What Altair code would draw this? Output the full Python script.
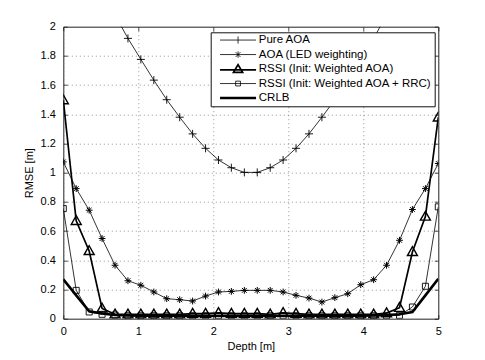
import altair as alt
import pandas as pd

depth = [0.000, 0.172, 0.345, 0.517, 0.690, 0.862, 1.034, 1.207, 1.379, 1.552,
         1.724, 1.897, 2.069, 2.241, 2.414, 2.586, 2.759, 2.931, 3.103, 3.276,
         3.448, 3.621, 3.793, 3.966, 4.138, 4.310, 4.483, 4.655, 4.828, 5.000]

series_names = ["Pure AOA", "AOA (LED weighting)", "RSSI (Init: Weighted AOA)",
                "RSSI (Init: Weighted AOA + RRC)", "CRLB"]

pure_aoa = [2.86, 2.65, 2.45, 2.26, 2.08, 1.92, 1.776, 1.634, 1.50, 1.38,
            1.266, 1.167, 1.087, 1.034, 1.002, 1.002, 1.034, 1.087, 1.167, 1.266,
            1.38, 1.50, 1.634, 1.776, 1.92, 2.08, 2.26, 2.45, 2.65, 2.86]
aoa_led = [1.074, 0.891, 0.743, 0.549, 0.366, 0.26, 0.229, 0.183, 0.137, 0.130,
           0.121, 0.155, 0.183, 0.187, 0.194, 0.194, 0.194, 0.183, 0.160, 0.141,
           0.114, 0.144, 0.171, 0.233, 0.267, 0.366, 0.537, 0.748, 0.891, 1.063]
rssi_waoa = [1.497, 0.670, 0.464, 0.07, 0.03, 0.03, 0.03, 0.03, 0.03, 0.03,
             0.035, 0.035, 0.04, 0.035, 0.035, 0.035, 0.03, 0.04, 0.035, 0.03,
             0.03, 0.03, 0.03, 0.03, 0.03, 0.038, 0.075, 0.457, 0.70, 1.379]
rssi_rrc = [0.754, 0.194, 0.046, 0.03, 0.025, 0.02, 0.02, 0.02, 0.02, 0.02,
            0.02, 0.02, 0.02, 0.02, 0.02, 0.02, 0.02, 0.02, 0.02, 0.02,
            0.02, 0.02, 0.02, 0.02, 0.02, 0.02, 0.023, 0.080, 0.222, 0.766]
crlb = [0.27, 0.16, 0.05, 0.035, 0.025, 0.022, 0.02, 0.02, 0.02, 0.02,
        0.02, 0.02, 0.02, 0.02, 0.02, 0.02, 0.02, 0.02, 0.02, 0.02,
        0.02, 0.02, 0.02, 0.02, 0.022, 0.025, 0.03, 0.046, 0.16, 0.274]

x_ticks = [0, 1, 2, 3, 4, 5]
y_ticks = [0, 0.2, 0.4, 0.6, 0.8, 1.0, 1.2, 1.4, 1.6, 1.8, 2.0]

rows = []
for name, vals in zip(series_names, [pure_aoa, aoa_led, rssi_waoa, rssi_rrc, crlb]):
    for d, v in zip(depth, vals):
        rows.append({"depth": d, "rmse": v, "series": name})
df = pd.DataFrame(rows)

FONT = "Liberation Sans"
line_widths = [0.8, 0.8, 1.7, 0.8, 2.6]
point_widths = [0.9, 1.0, 1.4, 0.9]
marker_paths = [
    "M-1,0H1M0,-1V1",
    "M-0.85,0H0.85M0,-0.85V0.85M-0.6,-0.6L0.6,0.6M-0.6,0.6L0.6,-0.6",
    "M0,-1.3L1.25,0.9L-1.25,0.9Z",
    "M-0.75,-0.75H0.75V0.75H-0.75Z",
]
legend_paths = [
    "M-4.5,0H4.5M0,-0.9V0.9",
    "M-4.5,0H4.5M0,-0.8V0.8M-0.6,-0.6L0.6,0.6M-0.6,0.6L0.6,-0.6",
    "M-4.5,0.2H4.5M0,-1.1L1.15,0.85L-1.15,0.85Z",
    "M-4.5,0H4.5M-0.6,-0.6H0.6V0.6H-0.6Z",
    "M-4.5,0H4.5",
]

xscale = alt.Scale(domain=[0, 5], nice=False, zero=False)
yscale = alt.Scale(domain=[0, 2], nice=False, zero=False)

main_x_axis = alt.Axis(values=x_ticks, title="Depth [m]", grid=True, gridDash=[1, 3],
                       gridColor="#777", gridWidth=0.8, ticks=False, domain=False,
                       labelPadding=7, labelFont=FONT, labelFontSize=11, labelColor="#000",
                       labelFlush=False,
                       titleFont=FONT, titleFontSize=11, titleFontWeight="normal",
                       titleColor="#000", titlePadding=4, format="~g")
main_y_axis = alt.Axis(values=y_ticks, title="RMSE [m]", grid=True, gridDash=[1, 3],
                       gridColor="#777", gridWidth=0.8, ticks=False, domain=False,
                       labelPadding=8, labelFont=FONT, labelFontSize=11, labelColor="#000",
                       labelFlush=False,
                       titleFont=FONT, titleFontSize=11, titleFontWeight="normal",
                       titleColor="#000", titlePadding=6, format="~g")


def tick_axis(orient, values):
    return alt.Axis(orient=orient, values=values, offset=-4, tickSize=4, ticks=True,
                    tickColor="#222", tickWidth=0.8, labels=False, title=None,
                    grid=False, domain=False)


legend_props = dict(title=None, orient="none", legendX=147.4, legendY=5.6,
                    padding=2, strokeColor="#111", fillColor="white",
                    cornerRadius=0, labelFont=FONT, labelFontSize=11.5,
                    labelColor="#000", labelLimit=300, symbolSize=64,
                    symbolOffset=19.6, labelOffset=15, rowPadding=-1.5,
                    gridAlign="all", symbolStrokeColor="#000")

base = alt.Chart(df)

lines = base.mark_line(color="#000", clip=True).encode(
    x=alt.X("depth:Q", scale=xscale, axis=main_x_axis),
    y=alt.Y("rmse:Q", scale=yscale, axis=main_y_axis),
    detail="series:N",
    strokeWidth=alt.StrokeWidth("series:N", scale=alt.Scale(type="ordinal", domain=series_names, range=line_widths), legend=None),
    order=alt.Order("depth:Q"),
)

points = base.transform_filter("datum.series != 'CRLB'").mark_point(
    size=64, filled=False, color="#000", clip=True, opacity=1
).encode(
    x=alt.X("depth:Q", scale=xscale, axis=tick_axis("bottom", x_ticks)),
    y=alt.Y("rmse:Q", scale=yscale, axis=tick_axis("left", y_ticks)),
    shape=alt.Shape("series:N", scale=alt.Scale(domain=series_names[:4], range=marker_paths), legend=None),
    strokeWidth=alt.StrokeWidth("series:N", scale=alt.Scale(type="ordinal", domain=series_names[:4], range=point_widths), legend=None),
)

legend_layer = base.transform_filter("false").mark_point(
    size=64, filled=False, color="#000", opacity=1
).encode(
    x=alt.X("depth:Q", scale=xscale, axis=tick_axis("top", x_ticks)),
    y=alt.Y("rmse:Q", scale=yscale, axis=tick_axis("right", y_ticks)),
    shape=alt.Shape("series:N", scale=alt.Scale(domain=series_names, range=legend_paths),
                    legend=alt.Legend(**legend_props)),
    strokeWidth=alt.StrokeWidth("series:N", scale=alt.Scale(type="ordinal", domain=series_names, range=line_widths),
                                legend=alt.Legend(**legend_props)),
)

chart = alt.layer(lines, points, legend_layer).resolve_scale(
    shape="independent", strokeWidth="independent"
).resolve_axis(
    x="independent", y="independent"
).properties(
    width=375, height=292,
    autosize=alt.AutoSizeParams(type="none"),
    padding={"left": 55.3, "top": 18.7, "right": 38, "bottom": 33},
    background="white",
).configure_view(stroke="#222", strokeWidth=1)

chart.save("out.html", embed_options={"renderer": "svg", "actions": False})
